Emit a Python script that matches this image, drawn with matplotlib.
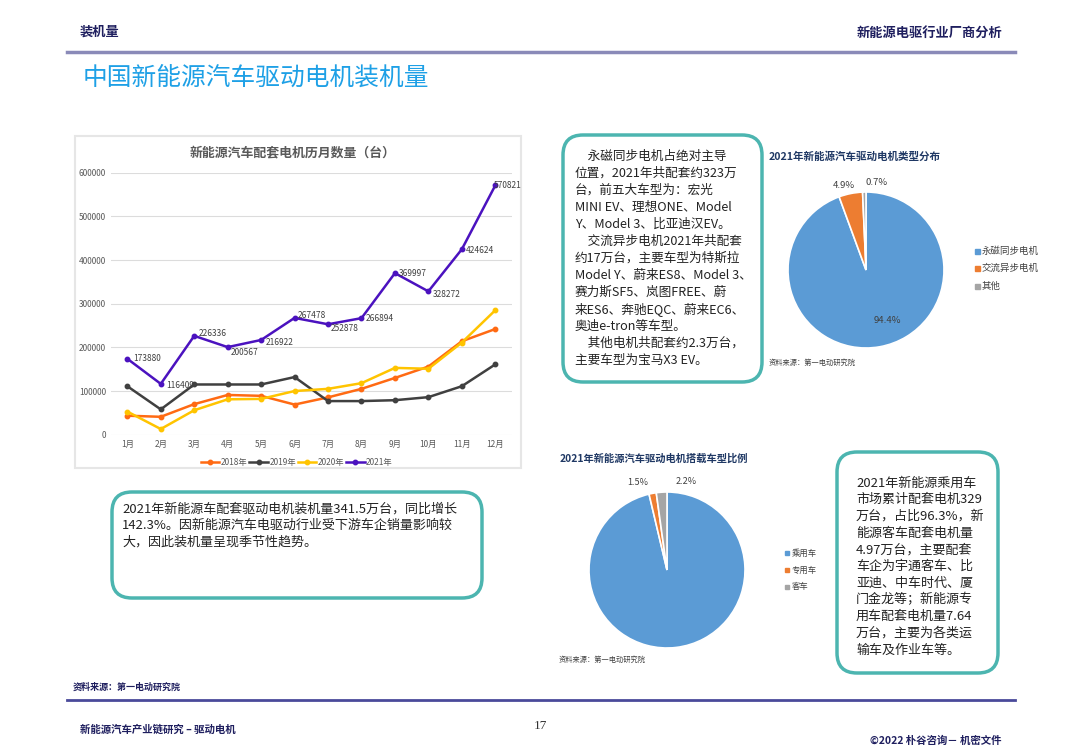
import matplotlib
matplotlib.use("Agg")
import matplotlib.pyplot as plt
from matplotlib.patches import FancyBboxPatch, Rectangle

plt.rcParams['font.family'] = ['Noto Sans CJK SC', 'DejaVu Sans']

# ---------------- data ----------------
months = [f"{i}月" for i in range(1, 13)]
years = ["2018年", "2019年", "2020年", "2021年"]
y2018 = [43500, 41000, 70000, 91000, 89000, 69000, 85500, 105000, 130000, 156000, 214000, 242000]
y2019 = [111000, 58000, 115000, 115000, 115000, 132000, 77000, 77000, 79000, 86000, 111000, 161000]
y2020 = [53000, 13000, 56000, 81000, 82000, 100000, 105000, 118000, 153000, 151000, 211000, 285000]
y2021 = [173880, 116409, 226336, 200567, 216922, 267478, 252878, 266894, 369997, 328272, 424624, 570821]
line_colors = ["#ff6a13", "#404040", "#ffc400", "#4b12bf"]

motor_types = ["永磁同步电机", "交流异步电机", "其他"]
motor_share = [94.4, 4.9, 0.7]
vehicle_types = ["乘用车", "专用车", "客车"]
vehicle_share = [96.3, 1.5, 2.2]
pie_colors = ["#5b9bd5", "#ed7d31", "#a5a5a5"]

W, H = 1080, 748
fig = plt.figure(figsize=(W / 100, H / 100), dpi=100)
fig.patch.set_facecolor("white")


def px_axes(x0, y0, x1, y1):
    return fig.add_axes([x0 / W, 1 - y1 / H, (x1 - x0) / W, (y1 - y0) / H])


bg = fig.add_axes([0, 0, 1, 1])
bg.set_xlim(0, W)
bg.set_ylim(H, 0)
bg.axis("off")

navy = "#1f1f5f"
# header / footer
bg.text(80, 32, "装机量", fontsize=9.5, fontweight="bold", color=navy, va="center")
bg.text(1002, 33, "新能源电驱行业厂商分析", fontsize=9.5, fontweight="bold", color=navy, va="center", ha="right")
bg.plot([67, 1015], [52, 52], color="#8a8ab8", lw=2.5)
bg.text(83, 78, "中国新能源汽车驱动电机装机量", fontsize=17.8, color="#1ea0e6", va="center")
bg.text(73, 687, "资料来源：第一电动研究院", fontsize=6.5, fontweight="bold", color=navy, va="center")
bg.plot([67, 1015], [700, 700], color="#4a4a9a", lw=2)
bg.text(80, 730, "新能源汽车产业链研究 – 驱动电机", fontsize=7.5, fontweight="bold", color=navy, va="center")
bg.text(540, 726, "17", fontsize=9.5, family="Liberation Serif", color="#333333", va="center", ha="center")
bg.text(1002, 741, "©2022 朴谷咨询－ 机密文件", fontsize=7.5, fontweight="bold", color=navy, va="center", ha="right")

# chart panel border
bg.add_patch(Rectangle((75, 136), 446, 332, facecolor="white", edgecolor="#e6e6e6", lw=1.5))
bg.text(293, 152, "新能源汽车配套电机历月数量（台）", fontsize=9.3, fontweight="bold",
        color="#595959", ha="center", va="center")

# rounded text boxes
teal = "#4cb5b0"
for (x0, y0, x1, y1) in [(563, 135, 762, 382), (112, 492, 482, 598), (837, 452, 998, 673)]:
    bg.add_patch(FancyBboxPatch((x0, y0), x1 - x0, y1 - y0,
                                boxstyle="round,pad=0,rounding_size=20",
                                facecolor="white", edgecolor=teal, lw=2.5))

box1 = ["　永磁同步电机占绝对主导", "位置，2021年共配套约323万", "台，前五大车型为：宏光",
        "MINI EV、理想ONE、Model", "Y、Model 3、比亚迪汉EV。", "　交流异步电机2021年共配套",
        "约17万台，主要车型为特斯拉", "Model Y、蔚来ES8、Model 3、", "赛力斯SF5、岚图FREE、蔚",
        "来ES6、奔驰EQC、蔚来EC6、", "奥迪e-tron等车型。", "　其他电机共配套约2.3万台，",
        "主要车型为宝马X3 EV。"]
for i, s in enumerate(box1):
    bg.text(575, 156.7 + i * 16.94, s, fontsize=9.1, color="#222222", va="center")

box2 = ["2021年新能源车配套驱动电机装机量341.5万台，同比增长",
        "142.3%。因新能源汽车电驱动行业受下游车企销量影响较",
        "大，因此装机量呈现季节性趋势。"]
for i, s in enumerate(box2):
    bg.text(122, 509 + i * 16.5, s, fontsize=9.4, color="#222222", va="center")

box3 = ["2021年新能源乘用车", "市场累计配套电机329", "万台，占比96.3%，新", "能源客车配套电机量",
        "4.97万台，主要配套", "车企为宇通客车、比", "亚迪、中车时代、厦", "门金龙等；新能源专",
        "用车配套电机量7.64", "万台，主要为各类运", "输车及作业车等。"]
for i, s in enumerate(box3):
    bg.text(856, 483 + i * 16.7, s, fontsize=9.4, color="#222222", va="center")

# ---------------- line chart ----------------
ax = px_axes(110.6, 172.7, 512, 434.7)
x = list(range(12))
for vals, c, lab in zip([y2018, y2019, y2020, y2021], line_colors, years):
    ax.plot(x, vals, color=c, lw=1.8, marker="o", ms=3.2, label=lab, zorder=3)
offsets = [(4, 0), (4, -1), (3, 2), (2, -4), (3, -2), (2, 2), (2, -3), (3, 0), (3, 0), (3, -2), (3, -1), (-1, 0)]
for i, v in enumerate(y2021):
    ax.annotate(str(v), (i, v), xytext=offsets[i], textcoords="offset points",
                ha="left", va="center", fontsize=6, color="#404040", zorder=4)
ax.set_xlim(-0.5, 11.5)
ax.set_ylim(0, 600000)
ax.set_yticks(range(0, 600001, 100000))
ax.set_yticklabels([str(v) for v in range(0, 600001, 100000)])
ax.set_xticks(x)
ax.set_xticklabels(months)
ax.grid(axis="y", color="#dcdcdc", lw=0.8)
ax.set_axisbelow(True)
for s in ax.spines.values():
    s.set_visible(False)
ax.tick_params(length=0, labelsize=6, colors="#595959")
ax.tick_params(axis="y", pad=3.3)
ax.tick_params(axis="x", pad=4)
ax.set_facecolor("none")
fig.legend(loc="center", bbox_to_anchor=(297 / W, 1 - 462 / H), ncol=4, frameon=False,
           fontsize=6, handlelength=2.2, columnspacing=0.2, handletextpad=0.2,
           labelcolor="#595959")

# ---------------- pie 1 ----------------
cx, cy, r = 866, 270, 78
pa = px_axes(cx - r, cy - r, cx + r, cy + r)
pa.pie(motor_share, colors=pie_colors, startangle=90, counterclock=False,
       wedgeprops=dict(edgecolor="white", linewidth=1.2))
pa.set_xlim(-1, 1)
pa.set_ylim(-1, 1)
for (tx, ty), v in zip([(0.28, -0.65), (-0.29, 1.08), (0.14, 1.12)], motor_share):
    pa.text(tx, ty, f"{v}%", fontsize=6.8, color="#404040", ha="center", va="center")
bg.text(769, 157, "2021年新能源汽车驱动电机类型分布", fontsize=7.6, fontweight="bold",
        color="#1f3864", va="center")
for i, (lab, c) in enumerate(zip(motor_types, pie_colors)):
    yy = 251 + i * 17.5
    bg.add_patch(Rectangle((975, yy - 2.5), 5, 5, color=c))
    bg.text(982, yy, lab, fontsize=6.8, color="#404040", va="center")
bg.text(769, 363, "资料来源：第一电动研究院", fontsize=5.2, color="#404040", va="center")

# ---------------- pie 2 ----------------
cx, cy, r = 667, 570, 78
pb = px_axes(cx - r, cy - r, cx + r, cy + r)
pb.pie(vehicle_share, colors=pie_colors, startangle=90, counterclock=False,
       wedgeprops=dict(edgecolor="white", linewidth=1.2))
pb.set_xlim(-1, 1)
pb.set_ylim(-1, 1)
for (tx, ty), v in zip([(-0.37, 1.12), (0.24, 1.14)], vehicle_share[1:]):
    pb.text(tx, ty, f"{v}%", fontsize=6.5, color="#404040", ha="center", va="center")
bg.text(560, 459, "2021年新能源汽车驱动电机搭载车型比例", fontsize=7.4, fontweight="bold",
        color="#1f3864", va="center")
for i, (lab, c) in enumerate(zip(vehicle_types, pie_colors)):
    yy = 553.3 + i * 16.7
    bg.add_patch(Rectangle((785, yy - 2), 4, 4, color=c))
    bg.text(792, yy, lab, fontsize=6, color="#404040", va="center")
bg.text(559, 660, "资料来源：第一电动研究院", fontsize=5.2, color="#404040", va="center")

fig.savefig("out.png", dpi=100, facecolor="white")
